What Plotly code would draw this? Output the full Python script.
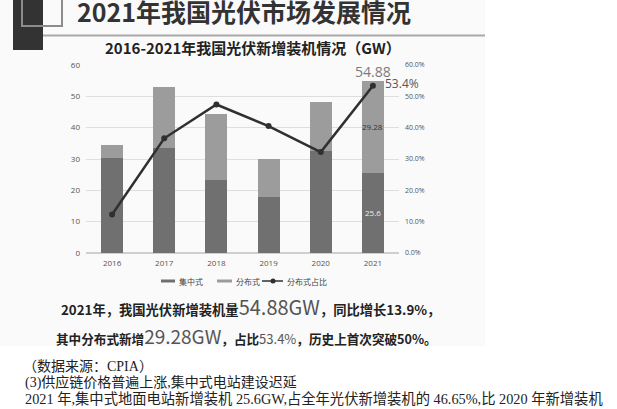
import plotly.graph_objects as go

years = ["2016", "2017", "2018", "2019", "2020", "2021"]
central = [30.31, 33.62, 23.30, 17.91, 32.68, 25.60]
distributed = [4.23, 19.44, 20.96, 12.20, 15.52, 29.28]
share = [0.123, 0.366, 0.474, 0.405, 0.322, 0.534]
totals = [round(c + d, 2) for c, d in zip(central, distributed)]

series_names = ["集中式", "分布式", "分布式占比"]
left_ticks = [0, 10, 20, 30, 40, 50, 60]
right_ticks = [0, 0.1, 0.2, 0.3, 0.4, 0.5, 0.6]

W, H = 617, 409
C_CENTRAL = "#707070"
C_DIST = "#9c9c9c"
C_LINE = "#303030"
CJK = "Noto Sans CJK SC, Open Sans, sans-serif"
NUM = "Open Sans, Noto Sans CJK SC, sans-serif"
SERIF = "Liberation Serif, Noto Sans CJK SC, serif"

xpos = list(range(len(years)))


def px(x):
    return x / W


def py(y):
    return 1 - y / H


fig = go.Figure()
fig.add_trace(go.Bar(x=xpos, y=central, name=series_names[0], marker_color=C_CENTRAL,
                     marker_line_width=0, yaxis="y"))
fig.add_trace(go.Bar(x=xpos, y=distributed, name=series_names[1], marker_color=C_DIST,
                     marker_line_width=0, yaxis="y"))
fig.add_trace(go.Scatter(x=xpos, y=share, name=series_names[2], yaxis="y2",
                         mode="lines+markers", line=dict(color=C_LINE, width=2.5),
                         marker=dict(color=C_LINE, size=6)))

shapes = [
    dict(type="rect", xref="paper", yref="paper", x0=0, x1=px(485), y0=py(346), y1=py(0),
         fillcolor="#fafafa", line_width=0, layer="below"),
    dict(type="rect", xref="paper", yref="paper", x0=px(13), x1=px(43), y0=py(50), y1=py(-2),
         fillcolor="#333333", line_width=0, layer="below"),
    dict(type="rect", xref="paper", yref="paper", x0=px(22), x1=px(62), y0=py(26), y1=py(-3),
         fillcolor="rgba(0,0,0,0)", line=dict(color="#8c8c8c", width=2), layer="below"),
    dict(type="line", xref="paper", yref="paper", x0=px(43), x1=px(485), y0=py(35.5), y1=py(35.5),
         line=dict(color="#a8a8a8", width=2)),
    dict(type="line", xref="paper", yref="paper", x0=px(161), x1=px(175), y0=py(281), y1=py(281),
         line=dict(color=C_CENTRAL, width=3)),
    dict(type="line", xref="paper", yref="paper", x0=px(217), x1=px(232), y0=py(281), y1=py(281),
         line=dict(color=C_DIST, width=3)),
    dict(type="line", xref="paper", yref="paper", x0=px(262), x1=px(283), y0=py(281), y1=py(281),
         line=dict(color=C_LINE, width=1.5)),
    dict(type="circle", xref="paper", yref="paper", x0=px(270.5), x1=px(275.5), y0=py(283.5), y1=py(278.5),
         fillcolor=C_LINE, line_width=0),
]


def pa(text, x, y, font, xanchor="center"):
    return dict(text=text, x=px(x), y=py(y), xref="paper", yref="paper", xanchor=xanchor,
                yanchor="middle", showarrow=False, font=font)


annotations = [
    pa("2021年我国光伏市场发展情况", 244, 11, dict(family=CJK, size=25, color="#333333", weight="bold")),
    pa("2016-2021年我国光伏新增装机情况（GW）", 253, 47, dict(family=CJK, size=15, color="#222222", weight="bold")),
    dict(text=f"{totals[-1]:.2f}", x=xpos[-1], y=totals[-1], xref="x", yref="y", xanchor="center",
         yanchor="bottom", yshift=-2, showarrow=False, font=dict(family=NUM, size=14, color="#7a7a7a")),
    dict(text=f"{share[-1]*100:.1f}%", x=xpos[-1], y=share[-1], xref="x", yref="y2",
         xanchor="left", yanchor="middle", xshift=10, yshift=2, showarrow=False,
         font=dict(family=NUM, size=12, color="#555555")),
    dict(text=f"{distributed[-1]:.2f}", x=xpos[-1], y=central[-1] + distributed[-1] / 2, xref="x", yref="y",
         xanchor="center", yanchor="middle", showarrow=False, font=dict(family=NUM, size=8, color="#333333")),
    dict(text=f"{central[-1]:.1f}", x=xpos[-1], y=central[-1] / 2, xref="x", yref="y",
         xanchor="center", yanchor="middle", showarrow=False, font=dict(family=NUM, size=8, color="#eeeeee")),
    pa(series_names[0], 177, 281, dict(family=CJK, size=8, color="#444444"), "left"),
    pa(series_names[1], 234, 281, dict(family=CJK, size=8, color="#444444"), "left"),
    pa(series_names[2], 285, 281, dict(family=CJK, size=8, color="#444444"), "left"),
    pa("<b>2021年，我国光伏新增装机量</b><span style='font-size:20px;color:#555555'>54.88GW</span><b>，同比增长13.9%，</b>",
       59, 306, dict(family=CJK, size=13.3, color="#222222"), "left"),
    pa("<b>其中分布式新增</b><span style='font-size:19px;color:#555555'>29.28GW</span><b>，占比</b><span style='font-size:13px;color:#555555'>53.4%</span><b>，历史上首次突破50%。</b>",
       54, 335, dict(family=CJK, size=12.6, color="#222222"), "left"),
    pa("（数据来源：CPIA）", 21, 366, dict(family=SERIF, size=14, color="#222222"), "left"),
    pa("(3)供应链价格普遍上涨,集中式电站建设迟延", 23, 382, dict(family=SERIF, size=14, color="#222222"), "left"),
    pa("2021 年,集中式地面电站新增装机 25.6GW,占全年光伏新增装机的 46.65%,比 2020 年新增装机",
       23, 398, dict(family=SERIF, size=14.3, color="#222222"), "left"),
]

fig.update_layout(
    width=W, height=H,
    margin=dict(l=0, r=0, t=0, b=0, autoexpand=False),
    paper_bgcolor="white", plot_bgcolor="rgba(0,0,0,0)",
    barmode="stack", bargap=0.58,
    showlegend=False,
    shapes=shapes, annotations=annotations,
    xaxis=dict(domain=[px(86), px(399)], range=[-0.5, len(years) - 0.5], tickvals=xpos, ticktext=years,
               showgrid=False, showline=False, zeroline=False,
               ticks="", tickfont=dict(family=NUM, size=8, color="#555555"), ticklabelstandoff=4),
    yaxis=dict(domain=[py(253), py(65)], range=[0, 60], tickvals=left_ticks, showgrid=True,
               gridcolor="#dedede", gridwidth=1, zeroline=True, zerolinecolor="#cfcfcf", showline=False,
               ticks="", tickfont=dict(family=NUM, size=8, color="#555555"), ticklabelstandoff=5),
    yaxis2=dict(domain=[py(253), py(65)], overlaying="y", side="right", range=[0, 0.6],
                tickvals=right_ticks, tickformat=".1%", showgrid=False, zeroline=False, showline=False,
                ticks="", tickfont=dict(family=NUM, size=7, color="#555555"), ticklabelstandoff=5,
                anchor="x"),
)

fig.write_html("out.html", post_script="document.body.style.margin='0';",
               config={"displayModeBar": False})
